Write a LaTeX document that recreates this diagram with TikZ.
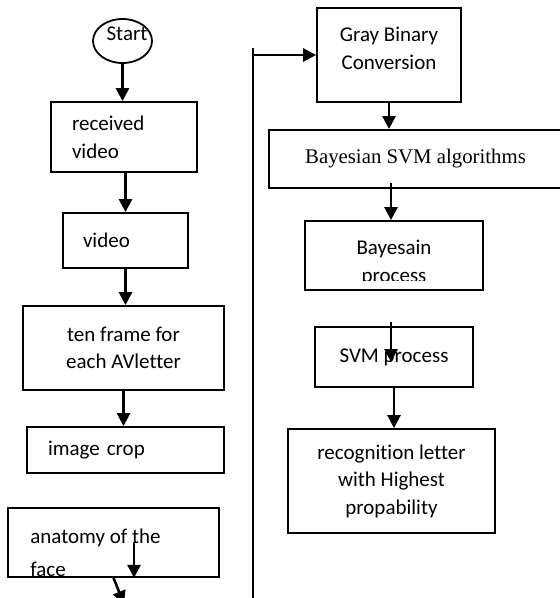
\documentclass[tikz,border=0pt]{standalone}
\usepackage{fontspec}
\setmainfont[Ligatures=NoCommon]{Carlito}
\newfontfamily\timesfont{Liberation Serif}
\usetikzlibrary{shapes.geometric,arrows.meta}
\tikzset{
 flowbox/.style={draw,line width=0.9pt,inner sep=0pt,
  font=\fontsize{10.5}{13.8}\selectfont},
 flowtext/.style={inner sep=0pt,font=\fontsize{10.5}{13.8}\selectfont},
 arr/.style={line width=1.3pt,-{Triangle[length=6.5pt,width=6.5pt]}}
}
\begin{document}
\begin{tikzpicture}[x=0.5pt,y=-0.5pt]
 	\useasboundingbox (0,0) rectangle (559,598);
 	% left column
 	\node[flowbox,ellipse,minimum width=29.5pt,minimum height=22pt]
 	(start) at (122.5,41) {};
 	\node[flowtext] (starttxt) at (127,34) {Start};
 	\node[flowbox,minimum width=73pt,minimum height=35pt,
 	text width=52pt,align=left] (recv) at (124,137) {received\\video};
 	\node[flowbox,minimum width=62.5pt,minimum height=27.5pt,
 	text width=42.5pt,align=left] (video) at (125.5,240.5) {video};
 	\node[flowbox,minimum width=100.5pt,minimum height=42pt,
 	align=center] (tenframe) at (123.5,348) {ten frame for\\each AVletter};
 	\node[flowbox,minimum width=98.5pt,minimum height=23pt,
 	text width=77.5pt,align=left] (crop) at (125.5,450) {image crop};
 	\node[flowbox,minimum width=105.5pt,minimum height=34.5pt]
 	(anat) at (113.5,542.5) {};
 	\begin{scope}
 		\clip (anat.north west) rectangle ([yshift=0.5pt]anat.south east);
 		\node[flowtext,anchor=north west,align=left,
 		font=\fontsize{10.5}{16.5}\selectfont] (anattxt)
 		at (30,529) {anatomy of the\\face};
 	\end{scope}
 	% right column
 	\node[flowbox,minimum width=72pt,minimum height=47pt]
 	(gray) at (389,55) {};
 	\node[flowtext,align=center] (graytxt) at (389,48.5)
 	{Gray Binary\\Conversion};
 	\node[flowbox,minimum width=146.5pt,minimum height=29pt,
 	font=\timesfont\fontsize{10.4}{12}\selectfont] (bsvm) at (415.5,159)
 	{Bayesian SVM algorithms};
 	\node[flowbox,minimum width=89pt,minimum height=34.5pt]
 	(bayes) at (394,255.5) {};
 	\begin{scope}
 		\clip (bayes.north west) rectangle ([yshift=5pt]bayes.south east);
 		\node[flowtext,anchor=north,align=center,
 		font=\fontsize{10.5}{14}\selectfont] (bayestxt)
 		at (394,240) {Bayesain\\process};
 	\end{scope}
 	\node[flowbox,minimum width=79pt,minimum height=30pt]
 	(svm) at (394,357) {SVM process};
 	\node[flowbox,minimum width=103.5pt,minimum height=52pt,
 	align=center] (recog) at (391.5,481)
 	{recognition letter\\with Highest\\propability};
 	% connectors
 	\foreach \a/\b in {start/recv,video/tenframe,tenframe/crop,
 		gray/bsvm,svm/recog}
 	\draw[arr] (\a.south) -- (\a.south |- \b.north);
 	\draw[arr] (video.north |- recv.south) -- (video.north);
 	\coordinate (anatin) at (134,542);
 	\coordinate (anatout) at (124,604);
 	\draw[arr] (anatin) -- (anatin |- anat.south);
 	\draw[arr] (anat.south) -- (anatout);
 	\coordinate (bsvmin) at (391,183);
 	\draw[arr] (bsvmin) -- (bsvmin |- bayes.north);
 	\coordinate (svmabove) at (391,322);
 	\coordinate (svmin) at (391,362);
 	\draw[arr] (svmabove) -- (svmin);
 	\coordinate (fbtop) at (253,48);
 	\coordinate (fbbot) at (253,600);
 	\draw[line width=0.9pt] (fbtop) -- (fbbot);
 	\draw[arr] (fbtop |- gray.west) -- (gray.west);
 \end{tikzpicture}
\end{document}
